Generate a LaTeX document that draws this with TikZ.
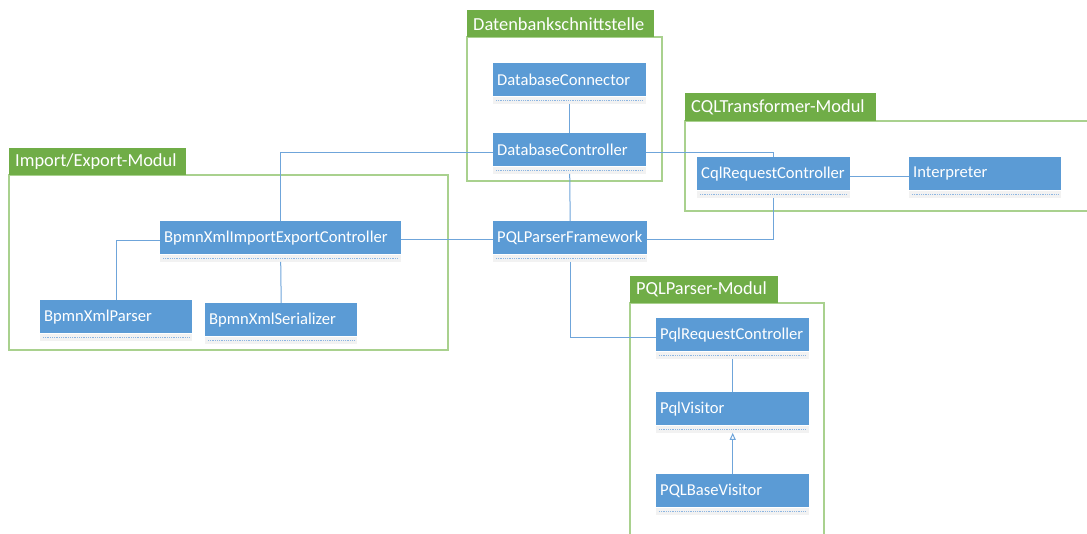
\documentclass[tikz,border=0pt]{standalone}
\usepackage{fontspec}
\setmainfont{Carlito}
\usetikzlibrary{arrows.meta,calc}
\definecolor{clsblue}{HTML}{5B9BD5}
\definecolor{tabgreen}{HTML}{70AD47}
\definecolor{boxgreen}{HTML}{A9D18E}
\definecolor{linkblue}{HTML}{6FA5DA}
\definecolor{stripgray}{HTML}{F2F2F2}
\definecolor{dotblue}{HTML}{8DB6E2}
\tikzset{
  cls/.style={rectangle, fill=clsblue, text=white, anchor=north west, minimum height=33pt,
    inner xsep=4pt, inner ysep=0pt, align=left, font=\fontsize{16.6}{19}\selectfont},
  clsstrip/.style={rectangle, fill=stripgray, anchor=north west, minimum height=7pt, inner sep=0pt},
  dotline/.style={draw=dotblue, densely dotted, line width=0.8pt},
  grp/.style={draw=boxgreen, line width=1.3pt},
  tabnode/.style={rectangle, fill=tabgreen, text=white, anchor=north west,
    inner xsep=6pt, inner ysep=0pt, align=left, font=\fontsize{18.4}{21}\selectfont},
  link/.style={draw=linkblue, line width=1pt},
}
\newcommand\umlclass[5]{%
  \pgfmathsetmacro\umltw{#4-8}%
  \node[cls, text width=\umltw pt] (#1) at (#2,#3) {#5};
  \node[clsstrip, minimum width=#4pt] (#1 s) at (#1.south west) {};
  \draw[dotline] ([xshift=3pt]#1 s.west) -- ([xshift=-3pt]#1 s.east);
}
\newcommand\umltab[6]{%
  \pgfmathsetmacro\umltw{#4-12}%
  \node[tabnode, text width=\umltw pt, minimum height=#5pt] (#1) at (#2,#3) {#6};
}
\begin{document}
\begin{tikzpicture}[x=1pt,y=-1pt]
\useasboundingbox (0,0) rectangle (1087,534);
\clip (0,0) rectangle (1087,534);
% groups
\draw[grp] (467,37) rectangle (662,181);
\umltab{tdb}{467}{10}{187}{27}{Datenbankschnittstelle}
\draw[grp] (1090,121) -- (685,121) -- (685,211) -- (1090,211);
\umltab{tcql}{685}{93}{191}{28}{CQLTransformer-Modul}
\draw[grp] (9,175) rectangle (448,350);
\umltab{tie}{9}{148}{177}{27}{Import/Export-Modul}
\draw[grp] (824,540) -- (824,303) -- (630,303) -- (630,540);
\umltab{tpql}{630}{276}{148}{27}{PQLParser-Modul}
% classes
\umlclass{dbconn}{493}{63}{153}{DatabaseConnector}
\umlclass{dbctrl}{493}{133}{153}{DatabaseController}
\umlclass{pqlfw}{493}{221}{154}{PQLParserFramework}
\umlclass{cqlrc}{697}{157}{153}{CqlRequestController}
\umlclass{interp}{909}{157}{152}{Interpreter}
\umlclass{bxiec}{160}{221}{241}{BpmnXmlImportExportController}
\umlclass{bxp}{40}{300}{152}{BpmnXmlParser}
\umlclass{bxs}{205}{303}{152}{BpmnXmlSerializer}
\umlclass{pqlrc}{656}{318}{153}{PqlRequestController}
\umlclass{pqlv}{656}{392}{153}{PqlVisitor}
\umlclass{pqlbv}{656}{474}{153}{PQLBaseVisitor}
% connectors
\draw[link] (dbconn s.south) -- (dbctrl.north);
\draw[link] (dbctrl s.south) -- (pqlfw.north);
\draw[link] ($(dbctrl.north west)+(0,20)$) -| (bxiec.north);
\draw[link] ($(dbctrl.north east)+(0,20)$) -| (cqlrc.north);
\draw[link] (cqlrc s.south) |- ($(pqlfw.north east)+(0,19)$);
\draw[link] ($(bxiec.north east)+(0,19)$) -- ($(pqlfw.north west)+(0,19)$);
\draw[link] ($(bxiec.north west)+(0,20)$) -| (bxp.north);
\draw[link] (bxiec s.south) -- (bxs.north);
\draw[link] ($(cqlrc.north east)+(0,20)$) -- ($(interp.north west)+(0,20)$);
\draw[link] (pqlfw s.south) |- ($(pqlrc.north west)+(0,20)$);
\draw[link] (pqlrc s.south) -- (pqlv.north);
\draw[link, -{Triangle[open, length=7pt, width=6pt]}] (pqlbv.north) -- (pqlv s.south);
\end{tikzpicture}
\end{document}
